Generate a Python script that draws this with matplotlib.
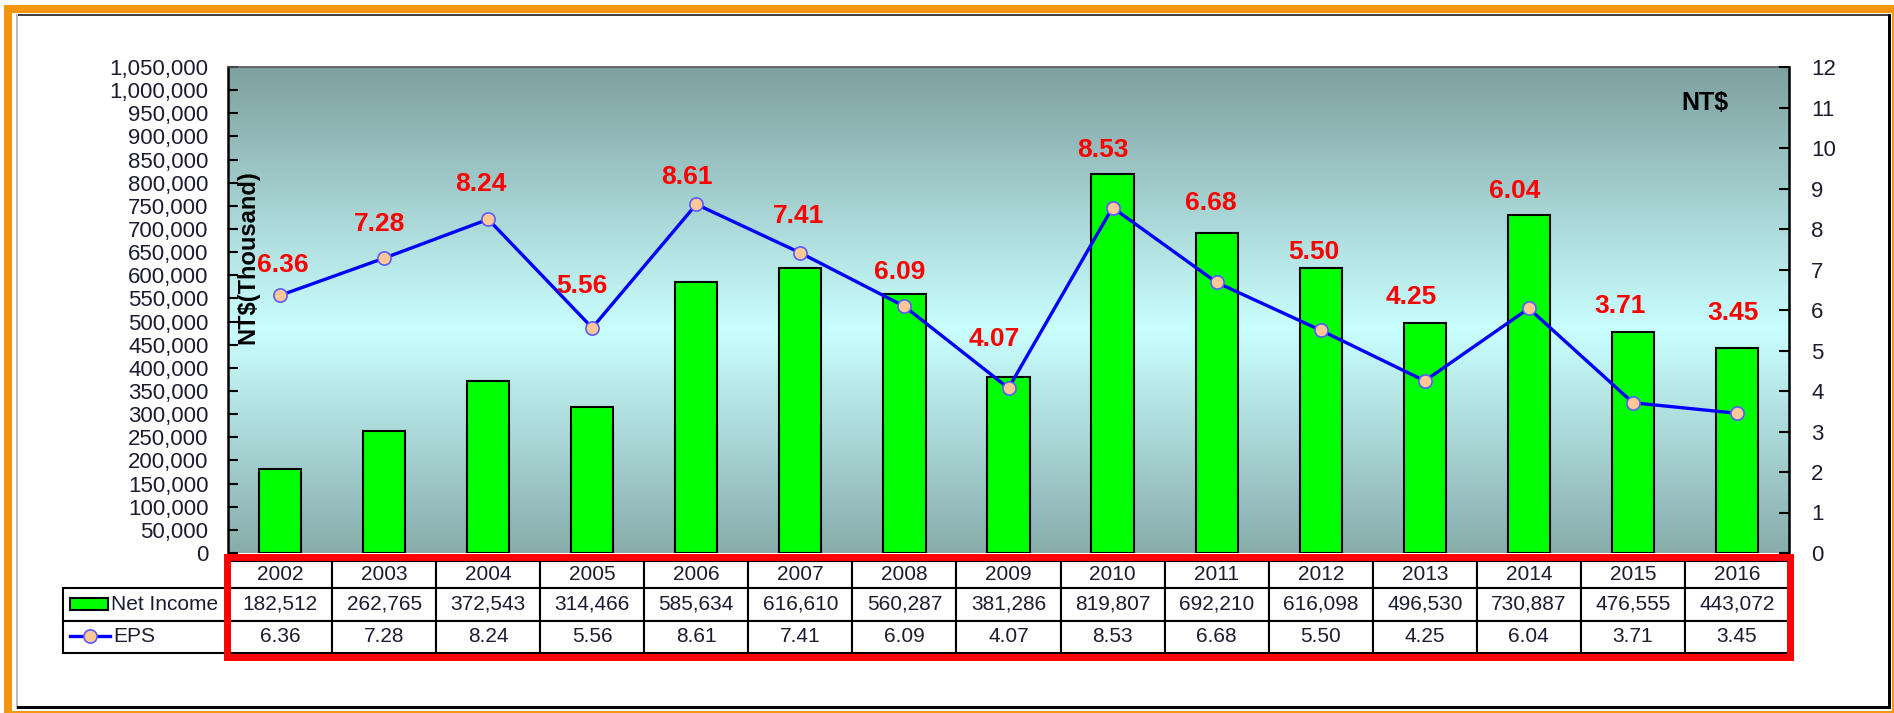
import numpy as np
import matplotlib.pyplot as plt
from matplotlib.patches import Rectangle
from matplotlib.lines import Line2D
from matplotlib.ticker import FuncFormatter

plt.rcParams['font.family'] = ['Liberation Sans', 'DejaVu Sans']

# Data
years = ['2002', '2003', '2004', '2005', '2006', '2007', '2008', '2009',
         '2010', '2011', '2012', '2013', '2014', '2015', '2016']
net_income = [182512, 262765, 372543, 314466, 585634, 616610, 560287, 381286,
              819807, 692210, 616098, 496530, 730887, 476555, 443072]
eps = [6.36, 7.28, 8.24, 5.56, 8.61, 7.41, 6.09, 4.07,
       8.53, 6.68, 5.50, 4.25, 6.04, 3.71, 3.45]

# where each EPS label sits relative to its point (pixels)
label_dx = [3, -5, -7, -10, -9, -2, -5, -14, -10, -6, -7, -14, -14, -13, -4]
label_dy = [30, 34, 35, 42, 27, 37, 34, 49, 58, 79, 78, 84, 117, 97, 100]

W, H = 1894, 713
fig = plt.figure(figsize=(W / 100, H / 100), dpi=100)
fig.patch.set_facecolor('white')


def fx(px):
    return px / W


def fy(py):
    return 1 - py / H


# plot area in pixels
L, R, T, B = 228, 1789, 67, 553
ax = fig.add_axes([fx(L), fy(B), fx(R) - fx(L), fy(T) - fy(B)])


def ax_x(px):
    return (px - L) / (R - L)


def ax_y(py):
    return (B - py) / (B - T)


# background gradient: grey-teal at the edges, pale cyan in the middle
stops = np.array([0.0, 0.46, 1.0])
cols = np.array([[136, 172, 172], [202, 255, 255], [126, 160, 160]]) / 255
t = np.linspace(0, 1, 400)
grad = np.stack([np.interp(t, stops, cols[:, k]) for k in range(3)], axis=-1)
ax.imshow(grad[::-1, None, :], extent=[0, 1, 0, 1], transform=ax.transAxes,
          aspect='auto', interpolation='bicubic', zorder=0)

x = np.arange(len(years))
ax.bar(x, net_income, width=0.405, color='#00FF00', edgecolor='black',
       linewidth=1.5, zorder=2)
ax.set_xlim(-0.5, len(years) - 0.5)
ax.set_ylim(0, 1050000)
ax.set_yticks(np.arange(0, 1050001, 50000))
ax.yaxis.set_major_formatter(FuncFormatter(lambda v, p: f'{v:,.0f}'))
ax.set_xticks([])
ax.tick_params(axis='y', direction='in', length=7, width=1.5, pad=14,
               labelsize=16, labelcolor='#1c1c30')
ax.spines['left'].set_linewidth(1.8)
ax.spines['top'].set_color('#555555')
ax.spines['top'].set_linewidth(1.2)
ax.spines['bottom'].set_visible(False)
ax.spines['right'].set_visible(False)

# EPS on the right axis
ax2 = ax.twinx()
ax2.set_ylim(0, 12)
ax2.set_yticks(range(13))
ax2.tick_params(axis='y', direction='in', length=7, width=1.5, pad=16,
                labelsize=16, labelcolor='#1c1c30')
ax2.spines['right'].set_linewidth(1.8)
for s in ['left', 'top', 'bottom']:
    ax2.spines[s].set_visible(False)
ax2.plot(x, eps, color='#0000FF', lw=2.4, marker='o', ms=9.5,
         mfc='#FFC896', mec='#5a5aff', mew=1.2, zorder=3)
for xi, v, dx, dy in zip(x, eps, label_dx, label_dy):
    ax2.annotate(f'{v:.2f}', (xi, v), xytext=(dx, dy), textcoords='offset pixels',
                 ha='center', va='center', color='#FF0000', fontsize=19,
                 fontweight='bold', zorder=4)

fig.text(fx(248), fy(257), r'NT\$(Thousand)', rotation=90, ha='center',
         va='center', fontsize=17, fontweight='bold')
fig.text(fx(1705), fy(103), r'NT\$', ha='center', va='center',
         fontsize=18, fontweight='bold')

# data table under the bars
net_fmt = [f'{v:,}' for v in net_income]
eps_fmt = [f'{v:.2f}' for v in eps]
tbl = ax.table(cellText=[years, net_fmt, eps_fmt], cellLoc='center',
               bbox=[0, ax_y(653), 1, ax_y(561) - ax_y(653)])
tbl.auto_set_font_size(False)
tbl.set_fontsize(15)
row_h = [27, 32.5, 32.5]
for (r, c), cell in tbl.get_celld().items():
    cell.set_height(row_h[r])
    cell.set_edgecolor('black')
    cell.set_linewidth(1.5)
    cell.set_facecolor('white')
    cell.get_text().set_color('#1c1c30')

# legend cells to the left of the table
leg = ax.table(cellText=[[''], ['']],
               bbox=[ax_x(63), ax_y(653), ax_x(228) - ax_x(63), ax_y(588) - ax_y(653)])
for cell in leg.get_celld().values():
    cell.set_edgecolor('black')
    cell.set_linewidth(1.5)
    cell.set_facecolor('white')

ax.add_patch(Rectangle((ax_x(70), ax_y(610)), ax_x(108) - ax_x(70), ax_y(598) - ax_y(610),
                       transform=ax.transAxes, facecolor='#00FF00', edgecolor='black',
                       lw=1.5, clip_on=False, zorder=6))
ax.add_line(Line2D([ax_x(70), ax_x(110)], [ax_y(636)] * 2, transform=ax.transAxes,
                   color='#0000FF', lw=2.4, clip_on=False, zorder=6))
ax.add_line(Line2D([ax_x(90)], [ax_y(636)], transform=ax.transAxes, marker='o',
                   ms=9.5, mfc='#FFC896', mec='#5a5aff', mew=1.2, clip_on=False, zorder=7))
ax.text(ax_x(111), ax_y(604.5), 'Net Income', transform=ax.transAxes,
        ha='left', va='center', fontsize=15, color='#1c1c30', zorder=7)
ax.text(ax_x(113), ax_y(637), 'EPS', transform=ax.transAxes,
        ha='left', va='center', fontsize=15, color='#1c1c30', zorder=7)

# red highlight around the table values
fig.add_artist(Rectangle((fx(226.5), fy(656.5)), fx(1789.5) - fx(226.5),
                         fy(556.5) - fy(656.5), transform=fig.transFigure,
                         fill=False, edgecolor='#FF0000', lw=5, zorder=10))

# chart frame and orange selection border
orange = '#F5960F'
frame = [
    ((fx(4), fy(13)), 1 - fx(4), fy(5) - fy(13), orange),
    ((fx(4), 0), fx(12) - fx(4), fy(5), orange),
    ((fx(1892), 0), 1 - fx(1892), fy(13), orange),
    ((fx(4), 0), 1 - fx(4), fy(711), orange),
    ((fx(17), fy(16)), fx(1889) - fx(17), fy(14) - fy(16), '#404040'),
    ((fx(16), fy(709)), fx(18) - fx(16), fy(14) - fy(709), '#b8bcc4'),
    ((fx(1888), fy(709)), fx(1891) - fx(1888), fy(14) - fy(709), '#000000'),
    ((fx(17), fy(709)), fx(1891) - fx(17), fy(706) - fy(709), '#000000'),
]
for xy, w, h, c in frame:
    fig.add_artist(Rectangle(xy, w, h, transform=fig.transFigure,
                             facecolor=c, edgecolor='none', zorder=11))

fig.savefig('out.png', dpi=100)
